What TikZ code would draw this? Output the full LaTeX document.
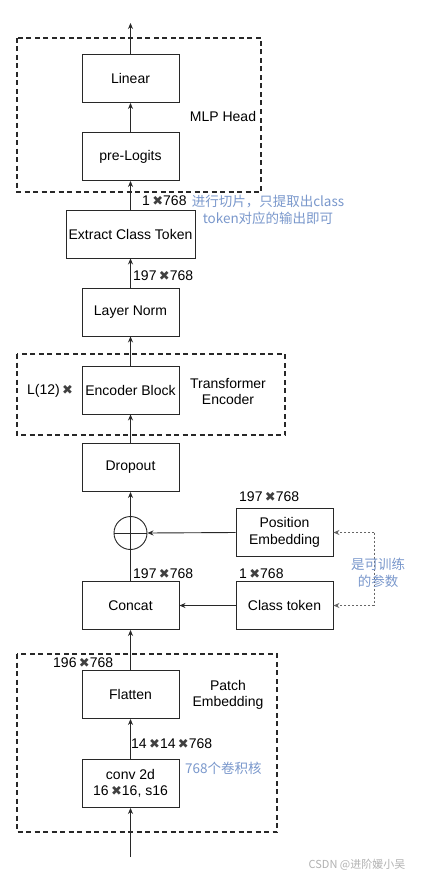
\documentclass[tikz,border=0pt]{standalone}
\usepackage{fontspec}
\setmainfont{Liberation Sans}
\newfontfamily\cjk{Noto Sans CJK SC}
\newfontfamily\sym{DejaVu Sans}
\usetikzlibrary{arrows.meta}
\definecolor{note}{RGB}{122,152,204}
\definecolor{ln}{RGB}{40,40,40}
\newcommand{\mx}{{\sym\color{black!75}\fontsize{13}{13}\selectfont ✖}}
\tikzset{
  blk/.style={draw=ln, line width=0.9pt, minimum width=97pt, minimum height=48pt, inner sep=0pt, align=center, font=\fontsize{14}{16.5}\selectfont},
  grp/.style={draw=ln, line width=1.4pt, dash pattern=on 5pt off 3.5pt},
  arr/.style={draw=ln, line width=0.9pt, -{Stealth[length=6pt,width=5pt]}},
  lbl/.style={font=\fontsize{14}{16}\selectfont, inner sep=0pt, anchor=west},
  txt/.style={font=\fontsize{14}{16}\selectfont, inner sep=0pt, align=center},
  bluetxt/.style={font=\cjk\fontsize{13.5}{17}\selectfont, text=note, inner sep=0pt, align=center},
  dot/.style={draw=black!60, line width=0.8pt, dash pattern=on 2pt off 2pt, -{Stealth[length=6pt,width=5pt]}}
}
\begin{document}
\begin{tikzpicture}[x=1pt,y=-1pt]
\useasboundingbox[fill=white] (0,0) rectangle (424,880);
% group boxes
\draw[grp] (17,38) rectangle (261,192);
\draw[grp] (17,354) rectangle (285,435);
\draw[grp] (17,654) rectangle (277,832);
% blocks
\node[blk] (lin) at (130.5,78.5) {Linear};
\node[blk] (pre) at (130.5,156.5) {pre-Logits};
\node[blk, minimum width=129pt] (ext) at (130.5,234) {Extract Class Token};
\node[blk] (ln) at (130.5,312) {Layer Norm};
\node[blk] (enc) at (130.5,390) {Encoder Block};
\node[blk] (drop) at (130.5,467.5) {Dropout};
\node[draw=ln, line width=0.9pt, circle, minimum size=33pt, inner sep=0pt] (add) at (130.5,533) {};
\draw[ln, line width=0.9pt] (add.north) -- (add.south) (add.west) -- (add.east);
\node[blk] (pos) at (284.5,532.5) {Position\\Embedding};
\node[blk] (cat) at (130.5,605.5) {Concat};
\node[blk] (cls) at (284.5,605.5) {Class token};
\node[blk] (flat) at (130.5,694.5) {Flatten};
\node[blk] (conv) at (130.5,783.5) {conv 2d\\16\,\mx16, s16};
\coordinate (top) at (130.5,23);
\coordinate (bot) at (130.5,857);
\coordinate (dv1) at (374,532.5);
\coordinate (dv2) at (374,605.5);
% arrows
\draw[arr] (lin.north) -- (top);
\draw[arr] (pre.north) -- (lin.south);
\draw[arr] (ext.north) -- (pre.south);
\draw[arr] (ln.north) -- (ext.south);
\draw[arr] (enc.north) -- (ln.south);
\draw[arr] (drop.north) -- (enc.south);
\draw[arr] (add.north) -- (drop.south);
\draw[ln, line width=0.9pt] (cat.north) -- (add.south);
\draw[arr] (pos.west) -- (add.east);
\draw[arr] (cls.west) -- (cat.east);
\draw[arr] (flat.north) -- (cat.south);
\draw[arr] (conv.north) -- (flat.south);
\draw[arr] (bot) -- (conv.south);
\draw[dot] (dv1) -- (pos.east);
\draw[dot] (dv2) -- (cls.east);
\draw[draw=black!60, line width=0.8pt, dash pattern=on 2pt off 2pt] (dv1) -- (dv2);
% labels
\node[txt] (mlp) at (223,116) {MLP Head};
\node[lbl] (s1) at (142,201) {1\,\mx768};
\node[bluetxt] (n1) at (268,209.5) {进行切片，只提取出class\\token对应的输出即可};
\node[lbl] (s2) at (133,276) {197\,\mx768};
\node[lbl] (L) at (27,391) {L(12)\,\mx};
\node[txt] (te) at (228,391) {Transformer\\Encoder};
\node[lbl] (s3) at (239,497) {197\,\mx768};
\node[lbl] (s4) at (133,574) {197\,\mx768};
\node[lbl] (s5) at (239,574) {1\,\mx768};
\node[bluetxt] (n2) at (378,573) {是可训练\\的参数};
\node[lbl] (s6) at (53,663) {196\,\mx768};
\node[txt] (pe) at (228,695) {Patch\\Embedding};
\node[lbl] (s7) at (131,744) {14\,\mx14\,\mx768};
\node[bluetxt, anchor=west] (n3) at (185,768) {768个卷积核};
\node[font=\cjk\fontsize{11}{12}\selectfont, text=black!30, inner sep=0pt] (wm) at (357,865) {CSDN @进阶媛小吴};
\end{tikzpicture}
\end{document}
